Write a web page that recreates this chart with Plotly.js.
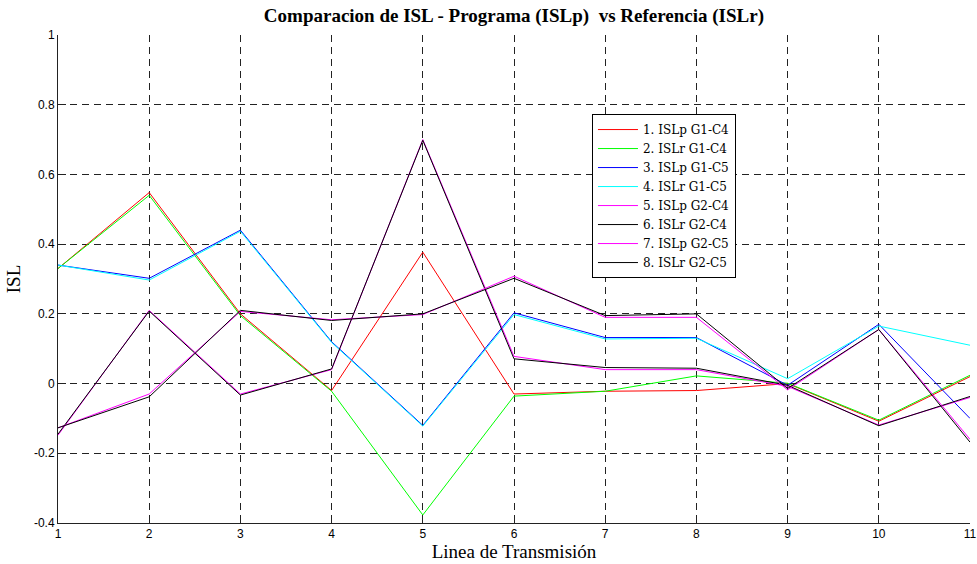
<!DOCTYPE html>
<html>
<head>
<meta charset="utf-8">
<script src="https://cdn.plot.ly/plotly-3.0.1.min.js"></script>
<style>html,body{margin:0;padding:0;background:#fff;}#chart{width:977px;height:564px;}</style>
</head>
<body>
<div id="chart"></div>
<script>
var lineas = [1, 2, 3, 4, 5, 6, 7, 8, 9, 10, 11];
var xTickText = ["1", "2", "3", "4", "5", "6", "7", "8", "9", "10", "11"];
var yTickVals = [-0.4, -0.2, 0, 0.2, 0.4, 0.6, 0.8, 1];
var yTickText = ["-0.4", "-0.2", "0", "0.2", "0.4", "0.6", "0.8", "1"];

var seriesNames = ["1. ISLp G1-C4", "2. ISLr G1-C4", "3. ISLp G1-C5", "4. ISLr G1-C5",
                   "5. ISLp G2-C4", "6. ISLr G2-C4", "7. ISLp G2-C5", "8. ISLr G2-C5"];
var seriesColors = ["#ff0000", "#00ff00", "#0000ff", "#00ffff", "#ff00ff", "#000000", "#ff00ff", "#000000"];

var islpG1C4 = [0.33, 0.548, 0.200, -0.020, 0.377, -0.030, -0.022, -0.020, 0.000, -0.108, 0.020];
var islrG1C4 = [0.33, 0.540, 0.195, -0.022, -0.377, -0.036, -0.022, 0.022, 0.001, -0.105, 0.024];
var islpG1C5 = [0.340, 0.302, 0.440, 0.120, -0.120, 0.203, 0.132, 0.132, -0.005, 0.170, -0.100];
var islrG1C5 = [0.340, 0.297, 0.437, 0.118, -0.122, 0.198, 0.128, 0.130, 0.014, 0.165, 0.110];
var islpG2C4 = [-0.148, 0.210, -0.030, 0.040, 0.700, 0.078, 0.040, 0.040, -0.008, -0.119, -0.040];
var islrG2C4 = [-0.145, 0.208, -0.033, 0.042, 0.698, 0.071, 0.046, 0.044, -0.005, -0.121, -0.037];
var islpG2C5 = [-0.127, -0.030, 0.207, 0.183, 0.198, 0.308, 0.190, 0.190, -0.018, 0.155, -0.160];
var islrG2C5 = [-0.127, -0.038, 0.210, 0.181, 0.200, 0.302, 0.195, 0.200, -0.014, 0.155, -0.168];

var allSeries = [islpG1C4, islrG1C4, islpG1C5, islrG1C5, islpG2C4, islrG2C4, islpG2C5, islrG2C5];

var traces = allSeries.map(function (vals, i) {
  return {
    x: lineas, y: vals, type: 'scatter', mode: 'lines',
    name: seriesNames[i],
    line: {color: seriesColors[i], width: 1}
  };
});

var serif = 'Liberation Serif, Times New Roman, serif';
var sans = 'Liberation Sans, Arial, sans-serif';

var layout = {
  width: 977, height: 564,
  paper_bgcolor: '#ffffff', plot_bgcolor: '#ffffff',
  margin: {l: 58, r: 7, t: 35, b: 41},
  title: {
    text: '<b>Comparacion de ISL - Programa (ISLp)  vs Referencia (ISLr)</b>',
    font: {family: serif, size: 19, color: '#000'},
    x: 0.526, xanchor: 'center', y: 0.972, yanchor: 'middle'
  },
  xaxis: {
    range: [1, 11], tickvals: lineas, ticktext: xTickText,
    showgrid: true, gridcolor: '#222', griddash: '7px,5px', gridwidth: 1,
    zeroline: false, showline: true, linecolor: '#222', linewidth: 1,
    ticks: 'inside', ticklen: 8, tickcolor: '#222',
    tickfont: {family: sans, size: 12, color: '#000'},
    title: {text: 'Linea de Transmisión', font: {family: serif, size: 19, color: '#000'}, standoff: 2}
  },
  yaxis: {
    range: [-0.4, 1], tickvals: yTickVals, ticktext: yTickText,
    showgrid: true, gridcolor: '#222', griddash: '7px,5px', gridwidth: 1,
    zeroline: false, showline: true, linecolor: '#222', linewidth: 1,
    ticks: 'inside', ticklen: 8, tickcolor: '#222',
    tickfont: {family: sans, size: 12, color: '#000'},
    title: {text: 'ISL', font: {family: serif, size: 19, color: '#000'}, standoff: 8}
  },
  showlegend: true,
  legend: {
    x: 0.5855, y: 0.838, xanchor: 'left', yanchor: 'top',
    bgcolor: '#ffffff', bordercolor: '#000', borderwidth: 1,
    font: {family: 'DejaVu Serif, serif', size: 12, color: '#000'},
    tracegroupgap: 0, itemwidth: 40
  }
};

Plotly.newPlot('chart', traces, layout, {displayModeBar: false, staticPlot: true});
</script>
</body>
</html>
